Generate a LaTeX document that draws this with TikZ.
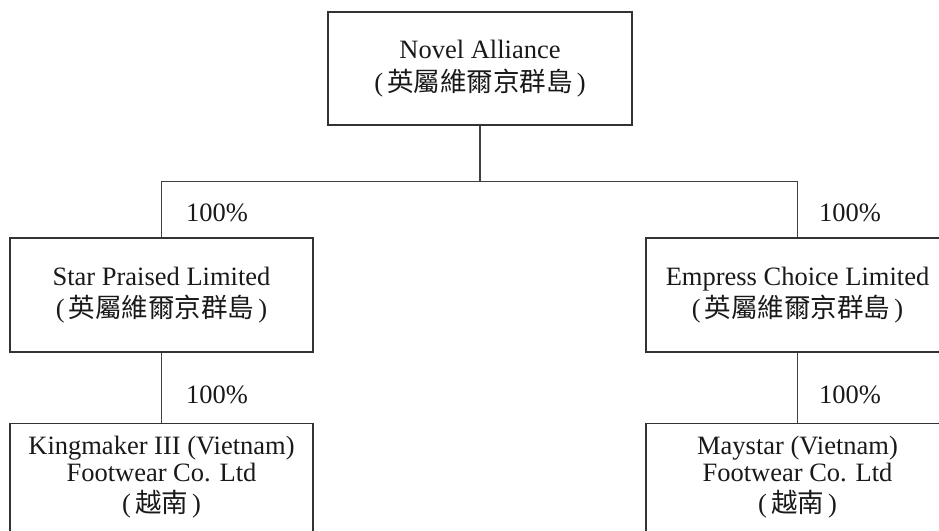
\documentclass[tikz,border=0pt]{standalone}
\usepackage{fontspec}
\setmainfont{Liberation Serif}
\newfontfamily\cjk{Noto Sans CJK TC}
\newcommand{\bvi}{{(\hspace{4pt}}{\cjk 英屬維爾京群島}{\hspace{4pt})}}
\newcommand{\vn}{{(\hspace{4pt}}{\cjk 越南}{\hspace{4pt})}}
\newcommand{\lowtext}[1]{\raisebox{0pt}[\height][\dimexpr\depth+22pt\relax]{\fontsize{26.5}{27.5}\selectfont\begin{tabular}{@{}c@{}}#1\end{tabular}}}
\tikzset{
  orgbox/.style={draw=black!80, line width=1.2pt, rectangle, align=center, inner sep=0pt,
    font=\fontsize{26.5}{32.5}\selectfont, text=black!90},
  pct/.style={font=\fontsize{26.5}{32}\selectfont, text=black!90, inner sep=0pt, anchor=west},
  link/.style={draw=black!75, line width=1.2pt}
}
\begin{document}
\begin{tikzpicture}[x=1pt,y=1pt]
\useasboundingbox (0,0) rectangle (939,-530);
\clip (0,0) rectangle (939,-530);
\node[orgbox, minimum width=304, minimum height=113] (n) at (480,-68.5) {Novel Alliance\\\bvi};
\node[orgbox, minimum width=303, minimum height=114] (s) at (161.5,-295) {Star Praised Limited\\\bvi};
\node[orgbox, minimum width=303, minimum height=114] (e) at (797.5,-295) {Empress Choice Limited\\\bvi};
\node[orgbox, minimum width=303, minimum height=130, anchor=north] (k) at (161.5,-423)
  {\lowtext{Kingmaker III (Vietnam)\\Footwear Co. Ltd\\\vn}};
\node[orgbox, minimum width=303, minimum height=130, anchor=north] (m) at (797.5,-423)
  {\lowtext{Maystar (Vietnam)\\Footwear Co. Ltd\\\vn}};
\coordinate (j) at (480,-181.5);
\draw[link] (n.south) -- (j);
\draw[link] (s.north) |- (j) -| (e.north);
\draw[link] (s.south) -- (k.north);
\draw[link] (e.south) -- (m.north);
\node[pct] (p1) at (186,-213) {100\%};
\node[pct] (p2) at (819,-213) {100\%};
\node[pct] (p3) at (186,-395) {100\%};
\node[pct] (p4) at (819,-395) {100\%};
\end{tikzpicture}
\end{document}
